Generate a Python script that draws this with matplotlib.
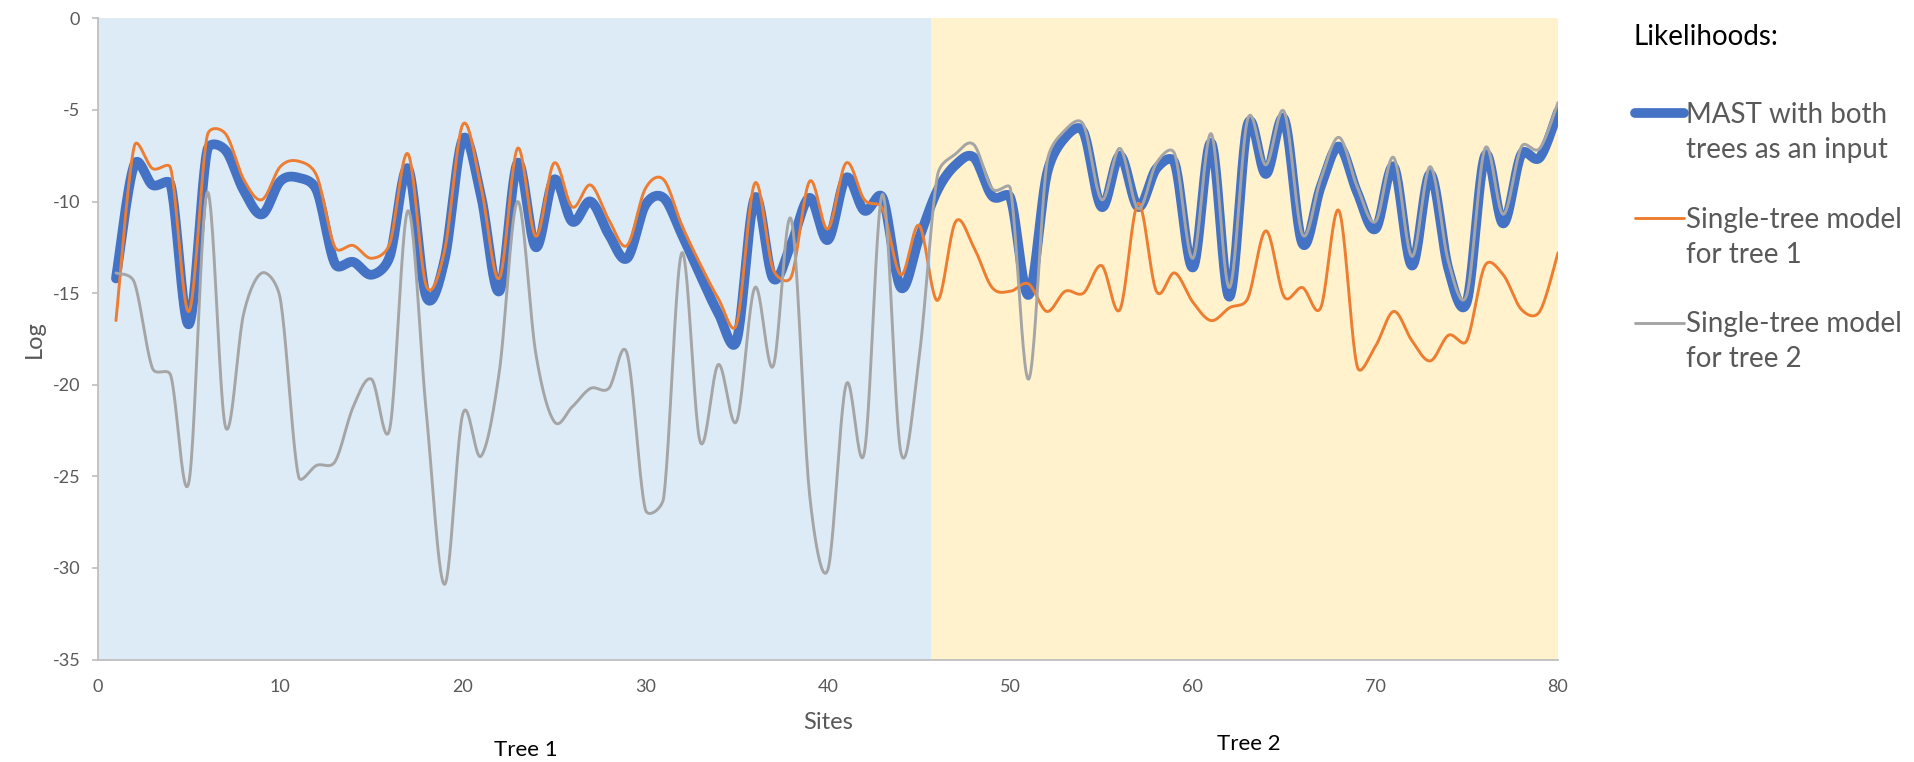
import numpy as np
import matplotlib
matplotlib.use("Agg")
import matplotlib.pyplot as plt
from matplotlib.lines import Line2D

plt.rcParams['font.family'] = ['Lato', 'DejaVu Sans']

# ---------------- data ----------------
sites = list(range(1, 81))

mast_both = [-14.2, -8.0, -9.1, -9.1, -16.7, -7.2, -7.2, -9.4, -10.7, -8.9,
             -8.7, -9.4, -13.4, -13.3, -14.0, -13.0, -8.2, -15.2, -13.2, -6.6,
             -9.7, -14.9, -7.9, -12.5, -8.8, -11.1, -10.0, -11.8, -13.1, -10.2,
             -9.8, -11.8, -14.0, -16.1, -17.6, -9.8, -14.2, -12.3, -9.8, -12.1,
             -8.7, -10.5, -9.8, -14.7, -12.0, -9.4, -8.0, -7.6, -9.7, -9.8,
             -15.1, -8.5, -6.5, -6.2, -10.3, -7.5, -10.3, -8.2, -7.9, -13.6,
             -6.8, -15.2, -5.8, -8.5, -5.5, -12.3, -9.2, -7.0, -9.5, -11.5,
             -8.1, -13.5, -8.5, -13.7, -15.5, -7.5, -11.2, -7.4, -7.6, -5.1]

single_tree1 = [-16.5, -7.0, -8.2, -8.2, -16.0, -6.4, -6.3, -8.8, -9.9, -8.1,
                -7.8, -8.6, -12.5, -12.4, -13.1, -12.3, -7.4, -14.6, -12.7, -5.8,
                -9.2, -14.2, -7.1, -11.9, -7.9, -10.3, -9.1, -11.0, -12.4, -9.3,
                -8.8, -11.3, -13.4, -15.3, -16.7, -9.0, -13.7, -14.1, -8.9, -11.5,
                -7.9, -9.9, -10.4, -14.0, -11.3, -15.4, -11.1, -12.5, -14.7, -14.9,
                -14.5, -16.0, -14.9, -15.0, -13.5, -15.9, -10.1, -14.9, -13.9, -15.5,
                -16.5, -15.8, -15.3, -11.6, -15.2, -14.7, -15.8, -10.5, -19.0, -17.9,
                -16.0, -17.6, -18.7, -17.3, -17.6, -13.5, -14.0, -15.9, -16.0, -12.8]

single_tree2 = [-13.9, -14.4, -19.1, -19.5, -25.3, -9.5, -22.3, -16.1, -13.9, -15.3,
                -25.0, -24.4, -24.2, -21.2, -19.7, -22.4, -10.5, -21.5, -30.9, -21.6,
                -23.9, -19.3, -10.0, -18.3, -22.0, -21.2, -20.2, -20.2, -18.3, -26.8,
                -26.2, -12.8, -23.1, -18.9, -22.0, -14.7, -19.0, -11.0, -26.0, -30.1,
                -20.0, -23.7, -9.6, -23.7, -18.5, -8.6, -7.4, -6.9, -9.3, -9.3,
                -19.7, -7.9, -6.1, -5.8, -9.9, -7.1, -10.4, -7.9, -7.4, -13.1,
                -6.3, -14.7, -5.5, -8.0, -5.1, -11.8, -8.8, -6.5, -9.2, -11.1,
                -7.6, -13.0, -8.1, -13.3, -15.1, -7.1, -10.7, -7.0, -7.1, -4.6]

tree_split = 45.65          # boundary between the two tree regions (site units)
x_limits = (0, 80)
y_limits = (-35, 0)
x_ticks = list(range(0, 81, 10))
y_ticks = list(range(-35, 1, 5))

series_labels = [("MAST with both", "trees as an input"),
                 ("Single-tree model", "for tree 1"),
                 ("Single-tree model", "for tree 2")]
region_labels = ["Tree 1", "Tree 2"]


# Excel-style smoothed line: Bezier segments with control arms limited
def excel_smooth(x, y, n=24):
    P = np.column_stack([np.asarray(x, float), np.asarray(y, float)])
    out = []
    t = np.linspace(0, 1, n, endpoint=False)[:, None]
    f = 1.0 / 6.0
    for i in range(len(P) - 1):
        p0 = P[i - 1] if i > 0 else P[i]
        p1 = P[i]
        p2 = P[i + 1]
        p3 = P[i + 2] if i + 2 < len(P) else P[i + 1]
        d02 = np.hypot(*(p2 - p0))
        d12 = np.hypot(*(p2 - p1))
        d13 = np.hypot(*(p3 - p1))
        f0 = f if d02 * f < d12 / 2 else (d12 / d02 / 2 if d02 > 0 else 0)
        f1 = f if d13 * f < d12 / 2 else (d12 / d13 / 2 if d13 > 0 else 0)
        c1 = p1 + (p2 - p0) * f0
        c2 = p2 - (p3 - p1) * f1
        b = ((1 - t) ** 3) * p1 + 3 * ((1 - t) ** 2) * t * c1 + 3 * (1 - t) * t ** 2 * c2 + t ** 3 * p2
        out.append(b)
    out.append(P[-1][None, :])
    out = np.vstack(out)
    return out[:, 0], out[:, 1]


W, H = 1915, 762
fig = plt.figure(figsize=(W / 100, H / 100), dpi=100)
ax = fig.add_axes([97.7 / W, 1 - 659.5 / H, (1558 - 97.7) / W, (659.5 - 18.3) / H])

ax.axvspan(x_limits[0], tree_split, color='#DDEBF7', zorder=0, lw=0)
ax.axvspan(tree_split, x_limits[1], color='#FFF2CC', zorder=0, lw=0)

bx, by = excel_smooth(sites, mast_both)
ox, oy = excel_smooth(sites, single_tree1)
gx, gy = excel_smooth(sites, single_tree2)

l_blue, = ax.plot(bx, by, color='#4472C4', lw=7.0, solid_capstyle='round', solid_joinstyle='round', zorder=3)
l_orange, = ax.plot(ox, oy, color='#ED7D31', lw=2.1, solid_capstyle='round', solid_joinstyle='round', zorder=4)
l_gray, = ax.plot(gx, gy, color='#A5A5A5', lw=2.1, solid_capstyle='round', solid_joinstyle='round', zorder=5)

ax.set_xlim(*x_limits)
ax.set_ylim(*y_limits)
ax.set_xticks(x_ticks)
ax.set_yticks(y_ticks)
ax.set_xticklabels([str(v) for v in x_ticks])
ax.set_yticklabels([str(v) for v in y_ticks])

for s in ['top', 'right']:
    ax.spines[s].set_visible(False)
for s in ['left', 'bottom']:
    ax.spines[s].set_color('#BFBFBF')
    ax.spines[s].set_linewidth(1.3)
ax.tick_params(axis='y', length=4.5, width=1.2, color='#BFBFBF', labelsize=13, labelcolor='#595959', pad=8)
ax.tick_params(axis='x', length=0, labelsize=13, labelcolor='#595959', pad=14)

ax.set_ylabel('Log', fontsize=17, color='#595959')
ax.yaxis.set_label_coords(-0.0436, 0.5)
ax.yaxis.label.set_verticalalignment('center')
ax.set_xlabel('Sites', fontsize=17, color='#595959')
ax.xaxis.set_label_coords(0.5, -0.099)
ax.xaxis.label.set_verticalalignment('center')

ax.text(0.2935, -0.141, region_labels[0], transform=ax.transAxes, ha='center', va='center', fontsize=16, color='black')
ax.text(0.788, -0.132, region_labels[1], transform=ax.transAxes, ha='center', va='center', fontsize=16, color='black')

# legend
blank = Line2D([], [], color='none')
handles = [l_blue, blank, blank, l_orange, blank, blank, l_gray, blank]
labels = [series_labels[0][0], series_labels[0][1], " ",
          series_labels[1][0], series_labels[1][1], " ",
          series_labels[2][0], series_labels[2][1]]
leg = ax.legend(handles, labels, loc='upper left', bbox_to_anchor=(1635 / W, 1 - 102 / H),
                bbox_transform=fig.transFigure, frameon=False, fontsize=20, labelcolor='#595959',
                handlelength=1.75, handletextpad=0.08, borderpad=0, borderaxespad=0,
                labelspacing=0.32)

fig.text(1634 / W, 1 - 37 / H, 'Likelihoods:', fontsize=20, color='black', va='center', ha='left')

fig.savefig('out.png', dpi=100, facecolor='white')
